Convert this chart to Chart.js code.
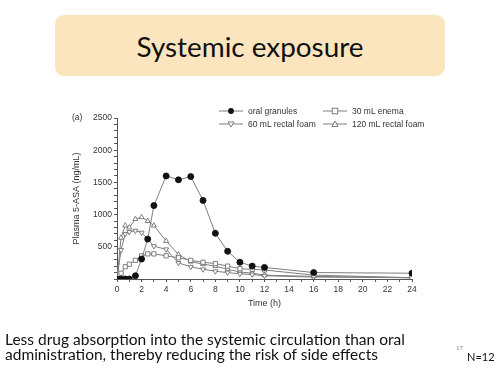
<!DOCTYPE html>
<html>
<head>
<meta charset="utf-8">
<script src="https://cdn.jsdelivr.net/npm/chart.js@4.4.1/dist/chart.umd.min.js"></script>
<style>
  html, body { margin: 0; padding: 0; background: #fff; }
  body { width: 501px; height: 371px; position: relative; overflow: hidden; }
  #chart { position: absolute; left: 0; top: 0; }
  .title-box {
    position: absolute; left: 55px; top: 15px; width: 390px; height: 61px;
    background: #fbe5bf; border-radius: 9px;
    display: flex; align-items: center; justify-content: center;
  }
  .title-box span { font-family: Lato, "Open Sans", sans-serif; font-size: 27px; color: #111; white-space: nowrap; }
  .panel { position: absolute; left: 72px; top: 112px; font: 8.5px "Liberation Sans", Arial, sans-serif; color: #333; }
  .legend { position: absolute; font: 8.5px "Liberation Sans", Arial, sans-serif; color: #333; white-space: nowrap; }
  .legend div { position: absolute; display: flex; align-items: center; height: 10px; }
  .legend svg { margin-right: 5px; }
  .note { position: absolute; left: 5px; font-family: Lato, "Open Sans", sans-serif; font-size: 15.5px; color: #111; white-space: nowrap; }
  .sup { position: absolute; left: 456px; top: 344px; font: 6px Lato, sans-serif; color: #888; }
  .n { position: absolute; left: 467px; top: 350px; font: 11px Lato, sans-serif; color: #111; }
</style>
</head>
<body>
<canvas id="chart" width="501" height="371"></canvas>
<div class="title-box"><span id="titleText">Systemic exposure</span></div>
<div class="panel">(a)</div>
<div class="legend" id="legend"></div>
<div class="note" id="line1" style="top:330px">Less drug absorption into the systemic circulation than oral</div>
<div class="note" id="line2" style="top:345px">administration, thereby reducing the risk of side effects</div>
<div class="sup">17</div>
<div class="n">N=12</div>
<script>
// Data
const times = [0, 0.33, 0.67, 1, 1.5, 2, 2.5, 3, 4, 5, 6, 7, 8, 9, 10, 11, 12, 16, 24];
const oralGranules = [0, 0, 0, 0, 50, 310, 620, 1140, 1600, 1540, 1590, 1220, 710, 430, 260, 200, 180, 100, 90];
const enema30 = [0, 90, 190, 230, 290, 360, 390, 390, 360, 330, 290, 260, 240, 200, 160, 150, 140, 60, 20];
const foam60 = [0, 450, 700, 730, 750, 720, 620, 510, 460, 250, 190, 150, 120, 100, 80, 70, 50, 30, 20];
const foam120 = [0, 640, 830, 800, 930, 960, 900, 830, 590, 380, 270, 230, 200, 150, 110, 90, 60, 40, 20];
const seriesNames = ['oral granules', '30 mL enema', '60 mL rectal foam', '120 mL rectal foam'];
const xTicks = [0, 2, 4, 6, 8, 10, 12, 14, 16, 18, 20, 22, 24];
const yTicks = [500, 1000, 1500, 2000, 2500];

const lineColor = '#7e7e7e';
const axisColor = '#555';
const textColor = '#333';

function pts(values) {
  return times.map((t, i) => ({ x: t, y: values[i] }));
}

function series(label, values, style) {
  return Object.assign({
    label: label,
    data: pts(values),
    borderColor: lineColor,
    borderWidth: 1,
    pointRadius: 2.9,
    pointBorderWidth: 0.9,
    pointBorderColor: '#707070',
    pointBackgroundColor: '#fff',
    tension: 0
  }, style);
}

const datasets = [
  series(seriesNames[0], oralGranules, { pointStyle: 'circle', pointRadius: 3, pointBackgroundColor: '#111', pointBorderColor: '#111', order: 1 }),
  series(seriesNames[1], enema30, { pointStyle: 'rect', pointRadius: 3, order: 2 }),
  series(seriesNames[2], foam60, { pointStyle: 'triangle', pointRotation: 180, order: 3 }),
  series(seriesNames[3], foam120, { pointStyle: 'triangle', order: 4 })
];

new Chart(document.getElementById('chart'), {
  type: 'line',
  data: { datasets: datasets },
  options: {
    responsive: false,
    animation: false,
    events: [],
    layout: { padding: { left: 68, right: 89, top: 118, bottom: 62 } },
    plugins: { legend: { display: false }, tooltip: { enabled: false } },
    scales: {
      x: {
        type: 'linear',
        min: 0,
        max: 24,
        afterFit: (scale) => { scale.height = 30; },
        border: { display: true, color: axisColor, width: 1 },
        grid: { drawOnChartArea: false, tickLength: 3, color: axisColor },
        ticks: {
          stepSize: 1,
          autoSkip: false,
          maxRotation: 0,
          padding: 3,
          color: textColor,
          font: { family: '"Liberation Sans", Arial, sans-serif', size: 8.5 },
          callback: (v) => xTicks.includes(v) ? String(v) : ''
        },
        title: {
          display: true,
          text: 'Time (h)',
          color: textColor,
          padding: { top: 2, bottom: 0 },
          font: { family: '"Liberation Sans", Arial, sans-serif', size: 9 }
        }
      },
      y: {
        min: 0,
        max: 2500,
        afterFit: (scale) => { scale.width = 49; },
        border: { display: true, color: axisColor, width: 1 },
        grid: { drawOnChartArea: false, tickLength: 3, color: axisColor },
        ticks: {
          stepSize: 100,
          autoSkip: false,
          padding: 2,
          color: textColor,
          font: { family: '"Liberation Sans", Arial, sans-serif', size: 8.5 },
          callback: (v) => yTicks.includes(v) ? String(v) : ''
        },
        title: {
          display: true,
          text: 'Plasma 5-ASA (ng/mL)',
          color: textColor,
          padding: { top: 3, bottom: 0 },
          font: { family: '"Liberation Sans", Arial, sans-serif', size: 9 }
        }
      }
    }
  }
});

// HTML legend, two columns like the figure
const markers = [
  '<circle cx="12" cy="5" r="2.9" fill="#111"/>',
  '<rect x="9.2" y="2.2" width="5.6" height="5.6" fill="#fff" stroke="#707070" stroke-width="0.9"/>',
  '<polygon points="9,3 15,3 12,8" fill="#fff" stroke="#707070" stroke-width="0.9"/>',
  '<polygon points="9,7.5 15,7.5 12,2" fill="#fff" stroke="#707070" stroke-width="0.9"/>'
];
const legendPos = [[219, 106], [323, 106], [219, 119], [323, 119]];
const legend = document.getElementById('legend');
seriesNames.forEach((name, i) => {
  const item = document.createElement('div');
  item.style.left = legendPos[i][0] + 'px';
  item.style.top = legendPos[i][1] + 'px';
  item.innerHTML = '<svg width="24" height="10"><line x1="0" y1="5" x2="24" y2="5" stroke="' + lineColor + '" stroke-width="1"/>' +
    markers[i] + '</svg><span>' + name + '</span>';
  legend.appendChild(item);
});

// Fit slide text widths to the reference
function fitWidth(id, target) {
  const el = document.getElementById(id);
  const size = parseFloat(getComputedStyle(el).fontSize);
  const w = el.getBoundingClientRect().width;
  if (w > 0) el.style.fontSize = (size * target / w).toFixed(2) + 'px';
}
fitWidth('titleText', 227);
fitWidth('line1', 400);
fitWidth('line2', 373);
</script>
</body>
</html>
